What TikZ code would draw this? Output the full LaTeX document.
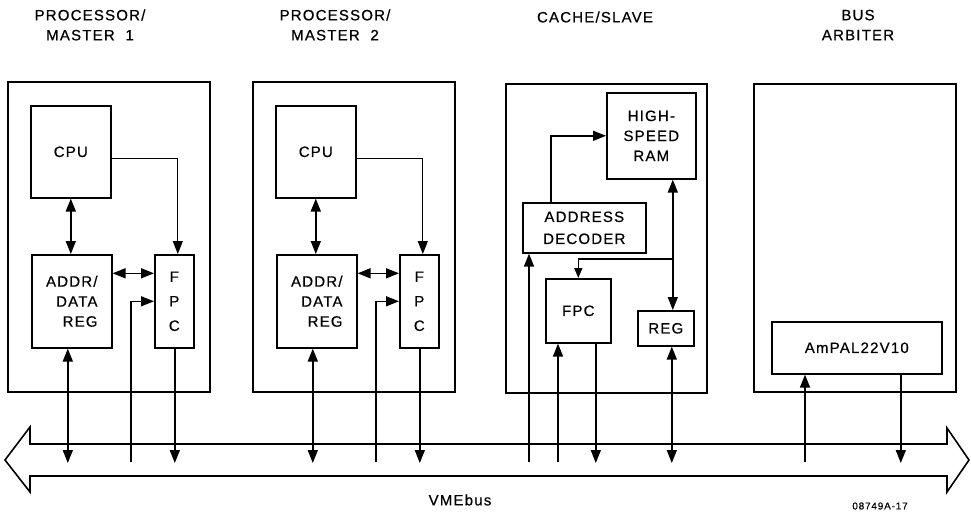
\documentclass[tikz,border=0pt]{standalone}
\usepackage{fontspec}
\setmainfont{Liberation Sans}[LetterSpace=8,FakeBold=0.6]
\usetikzlibrary{arrows.meta}
\begin{document}
\begin{tikzpicture}[x=1pt, y=-1pt, >={Triangle[length=13pt,width=10pt]}, line width=1.5pt,
  blk/.style={draw, line width=1.6pt, inner sep=0pt, anchor=north west, align=center, font=\fontsize{15}{20}\selectfont},
  lbl/.style={font=\fontsize{15}{20}\selectfont, align=center}]
\useasboundingbox (0,0) rectangle (971,516);
\foreach \i/\dx in {1/0pt,2/245pt}
{
\begin{scope}[xshift=\dx]
  \node[lbl](title\i) at (90,25){PROCESSOR/\\MASTER\ \ \i};
  \node[blk, minimum width=202pt, minimum height=310pt](pm\i) at (7,81){};
  \node[blk, minimum width=80pt, minimum height=92pt](cpu\i) at (30,105){CPU};
  \node[blk, minimum width=80pt, minimum height=93pt, align=right](addr\i) at (31,254){ADDR/\\DATA\\REG};
  \node[blk, minimum width=39pt, minimum height=93pt, font=\fontsize{15}{24.5}\selectfont](fpc\i) at (154,254){F\\P\\C};
  \coordinate (in\i) at (131,462);
  \draw[<->](cpu\i.south)--(cpu\i.south |- addr\i.north);
  \draw[->, line width=1pt]([yshift=-7pt]cpu\i.east) -| ([xshift=3.5pt]fpc\i.north);
  \draw[<->]([yshift=28pt]addr\i.east)--([yshift=28pt]addr\i.east -| fpc\i.west);
  \draw[->](in\i) |- (fpc\i.west);
  \draw[<->]([xshift=-4pt]addr\i.south)--([xshift=-4pt]addr\i.south |- 0,463);
  \draw[->]([xshift=0.5pt]fpc\i.south)--([xshift=0.5pt]fpc\i.south |- 0,463);
\end{scope}
}
\node[lbl](cst) at (595,17){CACHE/SLAVE};
\node[blk, minimum width=201pt, minimum height=309pt](cs) at (505,83){};
\node[blk, minimum width=89pt, minimum height=86pt](ram) at (606,92){HIGH-\\SPEED\\RAM};
\node[blk, minimum width=123pt, minimum height=50pt, font=\fontsize{15}{22}\selectfont](dec) at (522,202){ADDRESS\\DECODER};
\node[blk, minimum width=65pt, minimum height=64pt](fpc3) at (545,278){FPC};
\node[blk, minimum width=56pt, minimum height=35pt](reg) at (637,310){REG};
\coordinate (decin) at (529,462);
\coordinate (fpcin) at (558,462);
\draw[->]([xshift=29pt]dec.north west) |- (ram.west);
\draw[<->]([xshift=7pt]reg.north)--([xshift=7pt]reg.north |- ram.south);
\draw[-{Triangle[length=10pt,width=8pt]}]([xshift=7pt]reg.north |- 0,259) -| (fpc3.north);
\draw[->](decin)--(decin |- dec.south);
\draw[->](fpcin)--(fpcin |- fpc3.south);
\draw[->]([xshift=17.5pt]fpc3.south)--([xshift=17.5pt]fpc3.south |- 0,463);
\draw[<->]([xshift=6pt]reg.south)--([xshift=6pt]reg.south |- 0,463);
\node[lbl](bat) at (858,25){BUS\\ARBITER};
\node[blk, minimum width=202pt, minimum height=308pt](ba) at (753,83){};
\node[blk, minimum width=170pt, minimum height=52pt](pal) at (771,321){AmPAL22V10};
\coordinate (palin) at (805,462);
\draw[->](palin)--(palin |- pal.south);
\draw[->]([xshift=44pt]pal.south)--([xshift=44pt]pal.south |- 0,463);
\draw[line width=1.6pt](5,460)--(30,427)--(30,444)--(947,444)--(947,428)--(969,460)--(947,492)--(947,476)--(30,476)--(30,492)--cycle;
\node[lbl](vme) at (460,500){VMEbus};
\node[font=\fontsize{10}{12}\selectfont](fig) at (880,506){08749A-17};
\end{tikzpicture}
\end{document}
